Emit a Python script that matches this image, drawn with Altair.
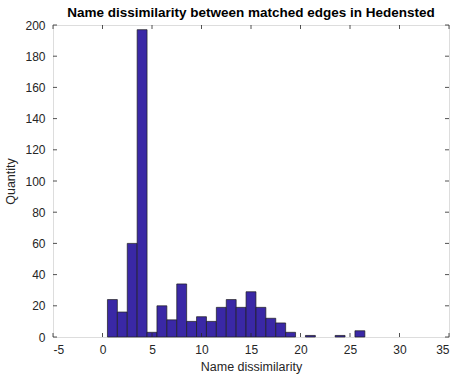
import altair as alt
import pandas as pd

# Histogram bins (centers, width 1) and counts
bin_centers = [1, 2, 3, 4, 5, 6, 7, 8, 9, 10, 11, 12, 13, 14, 15, 16, 17, 18, 19, 20, 21, 22, 23, 24, 25, 26]
counts = [24, 16, 60, 197, 3, 20, 11, 34, 10, 13, 10, 19, 24, 19, 29, 19, 12, 9, 3, 0, 1, 0, 0, 1, 0, 4]
x_ticks = [-5, 0, 5, 10, 15, 20, 25, 30, 35]
y_ticks = [0, 20, 40, 60, 80, 100, 120, 140, 160, 180, 200]

title_text = "Name dissimilarity between matched edges in Hedensted"
x_title = "Name dissimilarity"
y_title = "Quantity"

bars_df = pd.DataFrame({
    "x0": [c - 0.5 for c in bin_centers],
    "x1": [c + 0.5 for c in bin_centers],
    "count": counts,
    "base": [0] * len(counts),
})
bars_df = bars_df[bars_df["count"] > 0]
xt_df = pd.DataFrame({"v": x_ticks})
yt_df = pd.DataFrame({"v": y_ticks})

W, H = 396, 312
FONT = "Liberation Sans"
AX = "#262626"

xscale = alt.Scale(domain=[-5, 35], nice=False, zero=False)
yscale = alt.Scale(domain=[0, 200], nice=False)

xaxis = alt.Axis(values=x_ticks, ticks=False, domain=False, grid=False,
                 labelExpr="'' + datum.value", labelOverlap=False,
                 labelPadding=7, labelFontSize=12, labelColor=AX, labelFont=FONT,
                 title=x_title, titleFontSize=12.5, titleFontWeight="normal",
                 titleColor=AX, titleFont=FONT, titlePadding=5)
yaxis = alt.Axis(values=y_ticks, ticks=False, domain=False, grid=False,
                 labelOverlap=False, labelExpr="'' + datum.value",
                 labelPadding=8, labelFontSize=12, labelColor=AX, labelFont=FONT,
                 title=y_title, titleFontSize=12.5, titleFontWeight="normal",
                 titleColor=AX, titleFont=FONT, titlePadding=7)

bars = alt.Chart(bars_df).mark_bar(
    color="#3a28a6", stroke="#1c1c1c", strokeWidth=0.7, opacity=1
).encode(
    x=alt.X("x0:Q", scale=xscale, axis=xaxis),
    x2="x1:Q",
    y=alt.Y("count:Q", scale=yscale, axis=yaxis),
    y2="base:Q",
)

tick_len = 4
xt_bottom = alt.Chart(xt_df).mark_rule(color=AX, strokeWidth=0.8).encode(
    x=alt.X("v:Q", scale=xscale, axis=xaxis), y=alt.value(H), y2=alt.value(H - tick_len))
xt_top = alt.Chart(xt_df).mark_rule(color=AX, strokeWidth=0.8).encode(
    x=alt.X("v:Q", scale=xscale, axis=xaxis), y=alt.value(0), y2=alt.value(tick_len))
yt_left = alt.Chart(yt_df).mark_rule(color=AX, strokeWidth=0.8).encode(
    y=alt.Y("v:Q", scale=yscale, axis=yaxis), x=alt.value(0), x2=alt.value(tick_len))
yt_right = alt.Chart(yt_df).mark_rule(color=AX, strokeWidth=0.8).encode(
    y=alt.Y("v:Q", scale=yscale, axis=yaxis), x=alt.value(W), x2=alt.value(W - tick_len))

chart = alt.layer(bars, xt_bottom, xt_top, yt_left, yt_right).properties(
    width=W, height=H,
    title=alt.TitleParams(title_text, fontSize=13.5, fontWeight="bold", color="#000000",
                          font=FONT, anchor="middle", offset=0),
    autosize=alt.AutoSizeParams(type="none"),
    padding={"left": 53, "top": 25, "right": 6, "bottom": 42},
).configure_view(stroke=AX, strokeWidth=0.8).configure(background="white")

chart.save("out.html", embed_options={"renderer": "svg", "actions": False})
